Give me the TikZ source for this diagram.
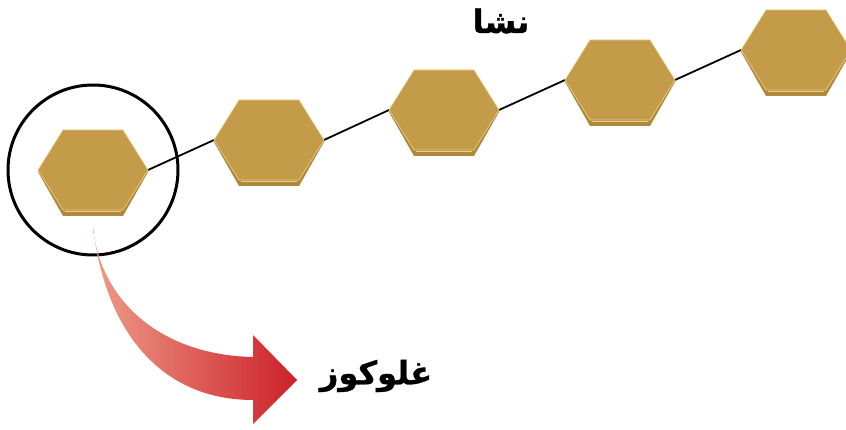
\documentclass[tikz,border=0pt]{standalone}
\usepackage{fontspec}
\newfontfamily\arabicfont[Script=Arabic, BoldFeatures={FakeBold=1.2}]{DejaVu Sans}
\TeXXeTstate=1
\definecolor{goldface}{RGB}{196,155,72}
\definecolor{golddark}{RGB}{176,136,58}
\definecolor{goldlight}{RGB}{232,206,136}
\definecolor{arrowlight}{RGB}{238,156,136}
\definecolor{arrowdark}{RGB}{204,32,42}
\tikzset{
  chain/.style={draw=black, line width=1.8pt},
  ring/.style={draw=black, circle, line width=3pt, minimum size=170pt, inner sep=0pt},
  label/.style={font=\arabicfont\bfseries\fontsize{32}{36}\selectfont, text=black, inner sep=0pt},
  hexagon/.pic={
    \fill[golddark] (-55,0) -- (-30,40) -- (30,40) -- (55,0) -- (55,2) -- (30,46) -- (-30,46) -- (-55,2) -- cycle;
    \filldraw[fill=goldface, draw=goldlight, line width=0.6pt]
      (-55,0) -- (-30,-40) -- (30,-40) -- (55,0) -- (30,40) -- (-30,40) -- cycle;
    \draw[goldlight, line width=1.4pt] (-28,41.5) -- (28,41.5);
  }
}
\begin{document}
\begin{tikzpicture}[x=1pt,y=-1pt]
\useasboundingbox (0,0) rectangle (846,430);
\clip (0,0) rectangle (846,430);
\foreach \i/\cx/\cy in {1/93/170,2/269/140,3/444/110,4/620/80,5/796/50}{
  \coordinate (h\i) at (\cx,\cy);
  \coordinate (h\i l) at (\cx-55,\cy);
  \coordinate (h\i r) at (\cx+55,\cy);
}
% chain links
\draw[chain] (h1r) -- (h2l);
\draw[chain] (h2r) -- (h3l);
\draw[chain] (h3r) -- (h4l);
\draw[chain] (h4r) -- (h5l);
% hexagons
\foreach \i in {1,...,5}{ \pic at (h\i) {hexagon}; }
% ring round the first unit
\node[ring] (ringnode) at (93,170) {};
% arrow
\coordinate (astart) at (93,227);
\shade[left color=arrowlight, right color=arrowdark]
  (astart) .. controls (100,300) and (160,355) .. (253,357)
  -- (253,335) -- (297,380) -- (253,424) -- (253,400)
  .. controls (160,400) and (105,330) .. (astart) -- cycle;
% labels
\node[label] (nasha) at (501,21) {\beginR نشا\endR};
\node[label] (glucose) at (376,376) {\beginR غلوکوز\endR};
\end{tikzpicture}
\end{document}
